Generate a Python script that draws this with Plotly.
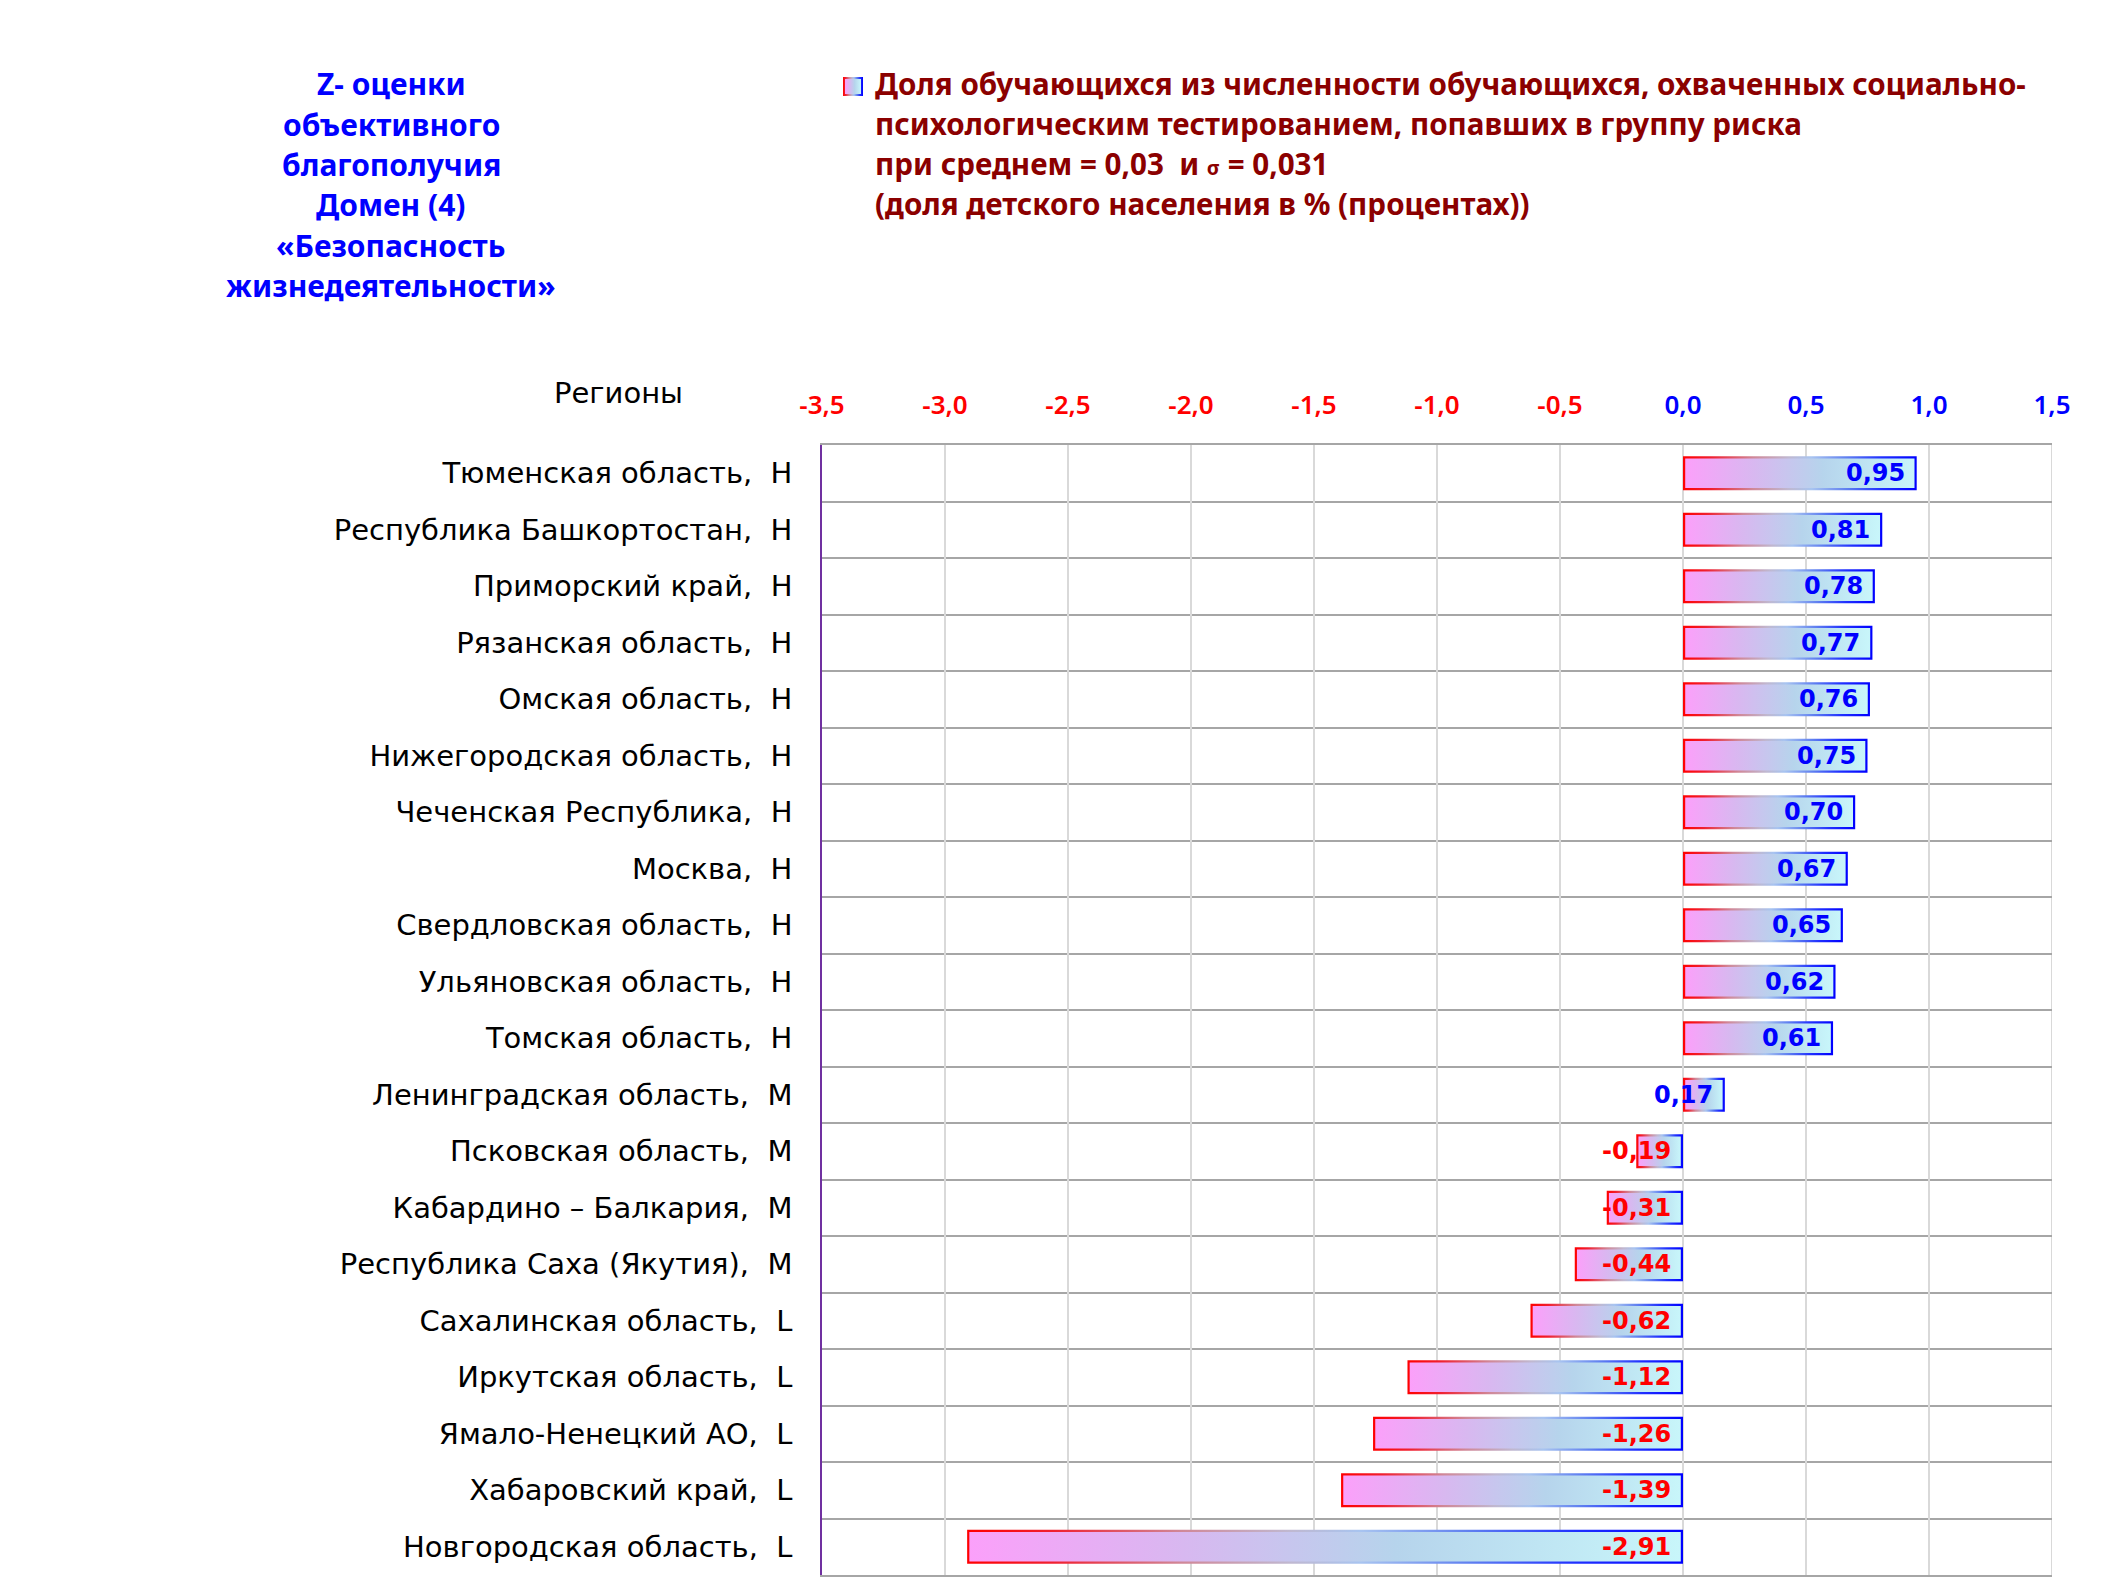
import plotly.graph_objects as go

# ---------------- data ----------------
regions = [
    "Тюменская область,\u00a0 Н",
    "Республика Башкортостан,\u00a0 Н",
    "Приморский край,\u00a0 Н",
    "Рязанская область,\u00a0 Н",
    "Омская область,\u00a0 Н",
    "Нижегородская область,\u00a0 Н",
    "Чеченская Республика,\u00a0 Н",
    "Москва,\u00a0 Н",
    "Свердловская область,\u00a0 Н",
    "Ульяновская область,\u00a0 Н",
    "Томская область,\u00a0 Н",
    "Ленинградская область,\u00a0 М",
    "Псковская область,\u00a0 М",
    "Кабардино – Балкария,\u00a0 М",
    "Республика Саха (Якутия),\u00a0 М",
    "Сахалинская область,\u00a0 L",
    "Иркутская область,\u00a0 L",
    "Ямало-Ненецкий АО,\u00a0 L",
    "Хабаровский край,\u00a0 L",
    "Новгородская область,\u00a0 L",
]
z_scores = [0.95, 0.81, 0.78, 0.77, 0.76, 0.75, 0.70, 0.67, 0.65, 0.62,
            0.61, 0.17, -0.19, -0.31, -0.44, -0.62, -1.12, -1.26, -1.39, -2.91]
x_ticks = [-3.5, -3.0, -2.5, -2.0, -1.5, -1.0, -0.5, 0.0, 0.5, 1.0, 1.5]

title_lines = ["Z- оценки", "объективного", "благополучия", "Домен (4)",
               "«Безопасность", "жизнедеятельности»"]
legend_lines = [
    "Доля обучающихся из численности обучающихся, охваченных социально-",
    "психологическим тестированием, попавших в группу риска",
    "при среднем = 0,03 \u00a0и <span style='font-size:20px'>σ</span> = 0,031",
    "(доля детского населения в % (процентах))",
]
y_title = "Регионы"

# ---------------- geometry / style ----------------
W, H = 2125, 1594
PL, PR, PT, PB = 822, 2052, 445, 1575   # plot area in px
XMIN, XMAX = -3.5, 1.5
n = len(regions)
px_per_x = (PR - PL) / (XMAX - XMIN)
px_per_y = (PB - PT) / n
half_h = 0.3
bw = 2.2  # border width px
LINE_GAP = 40.3

fill_scale = [[0, '#FBA0FA'], [0.3, '#D8B8F0'], [0.6, '#B6D4EC'], [1, '#C8F6FA']]
edge_scale = [[0, '#FF0000'], [0.12, '#F02030'], [0.3, '#D08898'], [0.45, '#C0B8D0'],
              [0.55, '#A8C4F0'], [0.7, '#6080F0'], [0.85, '#2030FF'], [1, '#0000FF']]

FONT = "Noto Sans"
LABEL_FONT = "DejaVu Sans"
fig = go.Figure()


def gradient_box(x0, x1, y0, y1, dx, dy, xa='x', ya='y'):
    fig.add_trace(go.Scatter(
        x=[x0, x1, x1, x0, x0], y=[y0, y0, y1, y1, y0],
        mode='lines', fill='toself', line=dict(width=0),
        fillgradient=dict(type='horizontal', colorscale=edge_scale),
        hoverinfo='skip', showlegend=False, xaxis=xa, yaxis=ya))
    fig.add_trace(go.Scatter(
        x=[x0 + dx, x1 - dx, x1 - dx, x0 + dx, x0 + dx],
        y=[y0 + dy, y0 + dy, y1 - dy, y1 - dy, y0 + dy],
        mode='lines', fill='toself', line=dict(width=0),
        fillgradient=dict(type='horizontal', colorscale=fill_scale),
        hoverinfo='skip', showlegend=False, xaxis=xa, yaxis=ya))


dx = bw / px_per_x
dy = bw / px_per_y
for i, v in enumerate(z_scores):
    gradient_box(min(0, v), max(0, v), i - half_h, i + half_h, dx, dy)

# value labels
annotations = []
for i, v in enumerate(z_scores):
    annotations.append(dict(
        x=max(0, v), y=i, xref='x', yref='y', xanchor='right', yanchor='middle',
        xshift=-10, showarrow=False,
        text=f"{v:.2f}".replace('.', ','),
        font=dict(family="DejaVu Sans", size=24, color='#0000FF' if v >= 0 else '#FF0000',
                  weight='bold')))

# legend marker (small overlay axes)
gradient_box(0, 1, 0, 1, 2 / 20, 2 / 19, xa='x2', ya='y2')


def fx(px):
    return px / W


def fy(py):
    return 1 - py / H


for k, line in enumerate(title_lines):
    annotations.append(dict(
        x=fx(391), y=fy(84 + k * LINE_GAP), xref='paper', yref='paper',
        xanchor='center', yanchor='middle', showarrow=False, text=line,
        font=dict(family=FONT, size=30, color='#0000FF', weight='bold')))
for k, line in enumerate(legend_lines):
    annotations.append(dict(
        x=fx(873), y=fy(83 + k * LINE_GAP), xref='paper', yref='paper',
        xanchor='left', yanchor='middle', showarrow=False, text=line,
        font=dict(family=FONT, size=29.6, color='#8B0000', weight='bold')))
annotations.append(dict(
    x=fx(618), y=fy(393), xref='paper', yref='paper', xanchor='center', yanchor='middle',
    showarrow=False, text=y_title, font=dict(family=LABEL_FONT, size=29, color='black')))

tick_text = [f"<span style='color:{'#FF0000' if t < 0 else '#0000FF'}'>{t:.1f}</span>".replace('.', ',')
             for t in x_ticks]

fig.update_layout(
    width=W, height=H, margin=dict(l=0, r=0, t=0, b=0, autoexpand=False),
    paper_bgcolor='white', plot_bgcolor='white', showlegend=False,
    annotations=annotations,
    xaxis=dict(domain=[fx(PL), fx(PR)], range=[XMIN, XMAX], side='top',
               tickmode='array', tickvals=x_ticks, ticktext=tick_text,
               tickfont=dict(family=FONT, size=26, weight=600), ticks='', ticklabelstandoff=19,
               showgrid=True, gridcolor='#D9D9D9', gridwidth=2, zeroline=False,
               showline=True, linecolor='#A6A6A6', linewidth=1.5, mirror=True,
               fixedrange=True, automargin=False),
    yaxis=dict(domain=[fy(PB), fy(PT)], range=[n - 0.5, -0.5],
               tickmode='array', tickvals=list(range(n)), ticktext=regions,
               tickfont=dict(family=LABEL_FONT, size=29, color='black'), ticks='',
               ticklabelstandoff=22, showgrid=False, zeroline=False,
               minor=dict(tickmode='array', tickvals=[k - 0.5 for k in range(n + 1)],
                          showgrid=True, gridcolor='#A6A6A6', gridwidth=1.5, ticks=''),
               showline=True, linecolor='#7030A0', linewidth=1.5, fixedrange=True,
               automargin=False),
    xaxis2=dict(domain=[fx(843), fx(863)], range=[0, 1], visible=False, fixedrange=True,
                anchor='y2', automargin=False),
    yaxis2=dict(domain=[fy(96), fy(77)], range=[0, 1], visible=False, fixedrange=True,
                anchor='x2', automargin=False),
)

fig.add_shape(type='line', x0=XMAX, x1=XMAX, y0=0, y1=1, xref='x', yref='y domain',
              line=dict(color='#D9D9D9', width=2), layer='below')

fig.write_html("out.html", config={'displayModeBar': False},
               post_script="document.body.style.margin='0px';")
